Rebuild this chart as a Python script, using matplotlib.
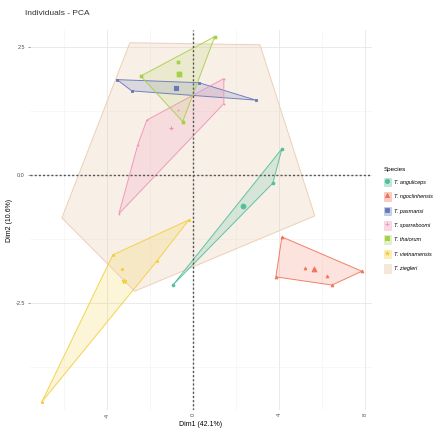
import numpy as np
import matplotlib
matplotlib.use("Agg")
import matplotlib.pyplot as plt
from matplotlib.patches import Patch, Polygon
from matplotlib.lines import Line2D

plt.rcParams['font.family'] = ['Liberation Sans', 'DejaVu Sans']

# PCA scores (Dim1, Dim2) per species
species = ["T. anguliceps", "T. ngoclinhensis", "T. pasmansi", "T. sparreboomi",
           "T. thaiorum", "T. vietnamensis", "T. ziegleri"]

anguliceps_x = [4.14, 3.72, -0.93]
anguliceps_y = [0.51, -0.16, -2.15]
ngoclinhensis_x = [4.14, 7.86, 6.47, 3.86, 5.21, 6.23]
ngoclinhensis_y = [-1.21, -1.88, -2.15, -1.99, -1.82, -1.97]
pasmansi_x = [-3.53, -2.84, 0.28, 2.93]
pasmansi_y = [1.86, 1.64, 1.80, 1.46]
sparreboomi_x = [1.44, 1.44, -2.14, -2.56, -3.44, -0.70]
sparreboomi_y = [1.88, 1.39, 1.07, 0.59, -0.76, 1.27]
thaiorum_x = [1.02, -2.42, -0.47, -0.70]
thaiorum_y = [2.70, 1.93, 1.04, 2.21]
vietnamensis_x = [-0.19, -3.72, -7.02, -1.67, -3.30]
vietnamensis_y = [-0.88, -1.56, -4.43, -1.68, -1.84]
ziegleri_x = [-2.93, 3.12, 5.67, -2.70, -6.09]
ziegleri_y = [2.58, 2.54, -0.80, -2.27, -0.84]

xs = [anguliceps_x, ngoclinhensis_x, pasmansi_x, sparreboomi_x,
      thaiorum_x, vietnamensis_x, ziegleri_x]
ys = [anguliceps_y, ngoclinhensis_y, pasmansi_y, sparreboomi_y,
      thaiorum_y, vietnamensis_y, ziegleri_y]

colors = ["#52BE9A", "#F07457", "#6677BB", "#EE93B7", "#A6D04A", "#F3CF3E", "#E9CDB0"]
fill_alpha = [0.2, 0.2, 0.2, 0.2, 0.15, 0.2, 0.3]
# ggplot's shape palette runs out after six groups, so the last one has no marker
markers = ["o", "^", "s", "+", "$\u22A0$", "*", None]

x_ticks = [-4, 0, 4, 8]
y_ticks = [2.5, 0.0, -2.5]
y_tick_labels = ["2.5", "0.0", "-2.5"]


def convex_hull(pts):
    pts = sorted(set(pts))
    if len(pts) < 3:
        return pts

    def cross(o, a, b):
        return (a[0] - o[0]) * (b[1] - o[1]) - (a[1] - o[1]) * (b[0] - o[0])

    lower, upper = [], []
    for p in pts:
        while len(lower) >= 2 and cross(lower[-2], lower[-1], p) <= 0:
            lower.pop()
        lower.append(p)
    for p in reversed(pts):
        while len(upper) >= 2 and cross(upper[-2], upper[-1], p) <= 0:
            upper.pop()
        upper.append(p)
    return lower[:-1] + upper[:-1]


fig = plt.figure(figsize=(4.45, 4.40), dpi=100)
ax = fig.add_axes([0.067, 0.068, 0.769, 0.864])

# ziegleri drawn first so it sits under the other hulls
order = [6, 0, 1, 2, 3, 4, 5]
for i in order:
    x, y, c, m = xs[i], ys[i], colors[i], markers[i]
    hull = convex_hull(list(zip(x, y)))
    ax.add_patch(Polygon(hull, closed=True, facecolor=c, alpha=fill_alpha[i], edgecolor='none', zorder=2))
    ax.add_patch(Polygon(hull, closed=True, facecolor='none', edgecolor=c, lw=0.7, alpha=0.9, zorder=3))
    if m is not None:
        ax.scatter(x, y, color=c, marker=m, s=4, lw=0.6, zorder=4)
        ax.scatter([np.mean(x)], [np.mean(y)], color=c, marker=m, s=11, lw=0.8, zorder=5)

ax.axvline(0, color='#555555', ls=(0, (1.5, 1.5)), lw=1.0, zorder=6)
ax.axhline(0, color='#555555', ls=(0, (1.5, 1.5)), lw=1.0, zorder=6)

ax.set_xlim(-7.58, 8.33)
ax.set_ylim(-4.59, 2.83)
ax.set_xticks(x_ticks)
ax.set_xticklabels([str(t) for t in x_ticks], rotation=90)
ax.set_xticks([-6, -2, 2, 6], minor=True)
ax.set_yticks(y_ticks)
ax.set_yticklabels(y_tick_labels)
ax.set_yticks([1.25, -1.25, -3.75], minor=True)
ax.grid(which='major', color='#E6E6E6', lw=0.6, zorder=0)
ax.grid(which='minor', color='#F2F2F2', lw=0.4, zorder=0)
ax.tick_params(which='both', length=0, labelsize=4, colors='#4D4D4D', pad=2)
ax.tick_params(axis='y', length=1.5, width=0.4, color='#4D4D4D')
for s in ax.spines.values():
    s.set_visible(False)
ax.set_axisbelow(True)

ax.set_xlabel("Dim1 (42.1%)", fontsize=5, labelpad=2)
ax.set_ylabel("Dim2 (10.6%)", fontsize=5, labelpad=2)
fig.text(0.056, 0.97, "Individuals - PCA", fontsize=6, color='#333333', va='center')

handles = []
for c, m, a in zip(colors, markers, fill_alpha):
    box = Patch(facecolor=c, alpha=a + 0.15, edgecolor=c, lw=0.5)
    if m is None:
        handles.append(box)
    else:
        handles.append((box, Line2D([], [], color=c, marker=m, ls='none', ms=3, mew=0.6)))

leg = fig.legend(handles, species, loc='upper left', bbox_to_anchor=(0.852, 0.632),
                 frameon=False, fontsize=4, title="Species", title_fontsize=4.5,
                 handlelength=1.2, handleheight=2.0, labelspacing=1.05, handletextpad=0.6)
leg._legend_box.align = "left"
for t in leg.get_texts():
    t.set_fontstyle('italic')

fig.savefig("out.png", dpi=100)
